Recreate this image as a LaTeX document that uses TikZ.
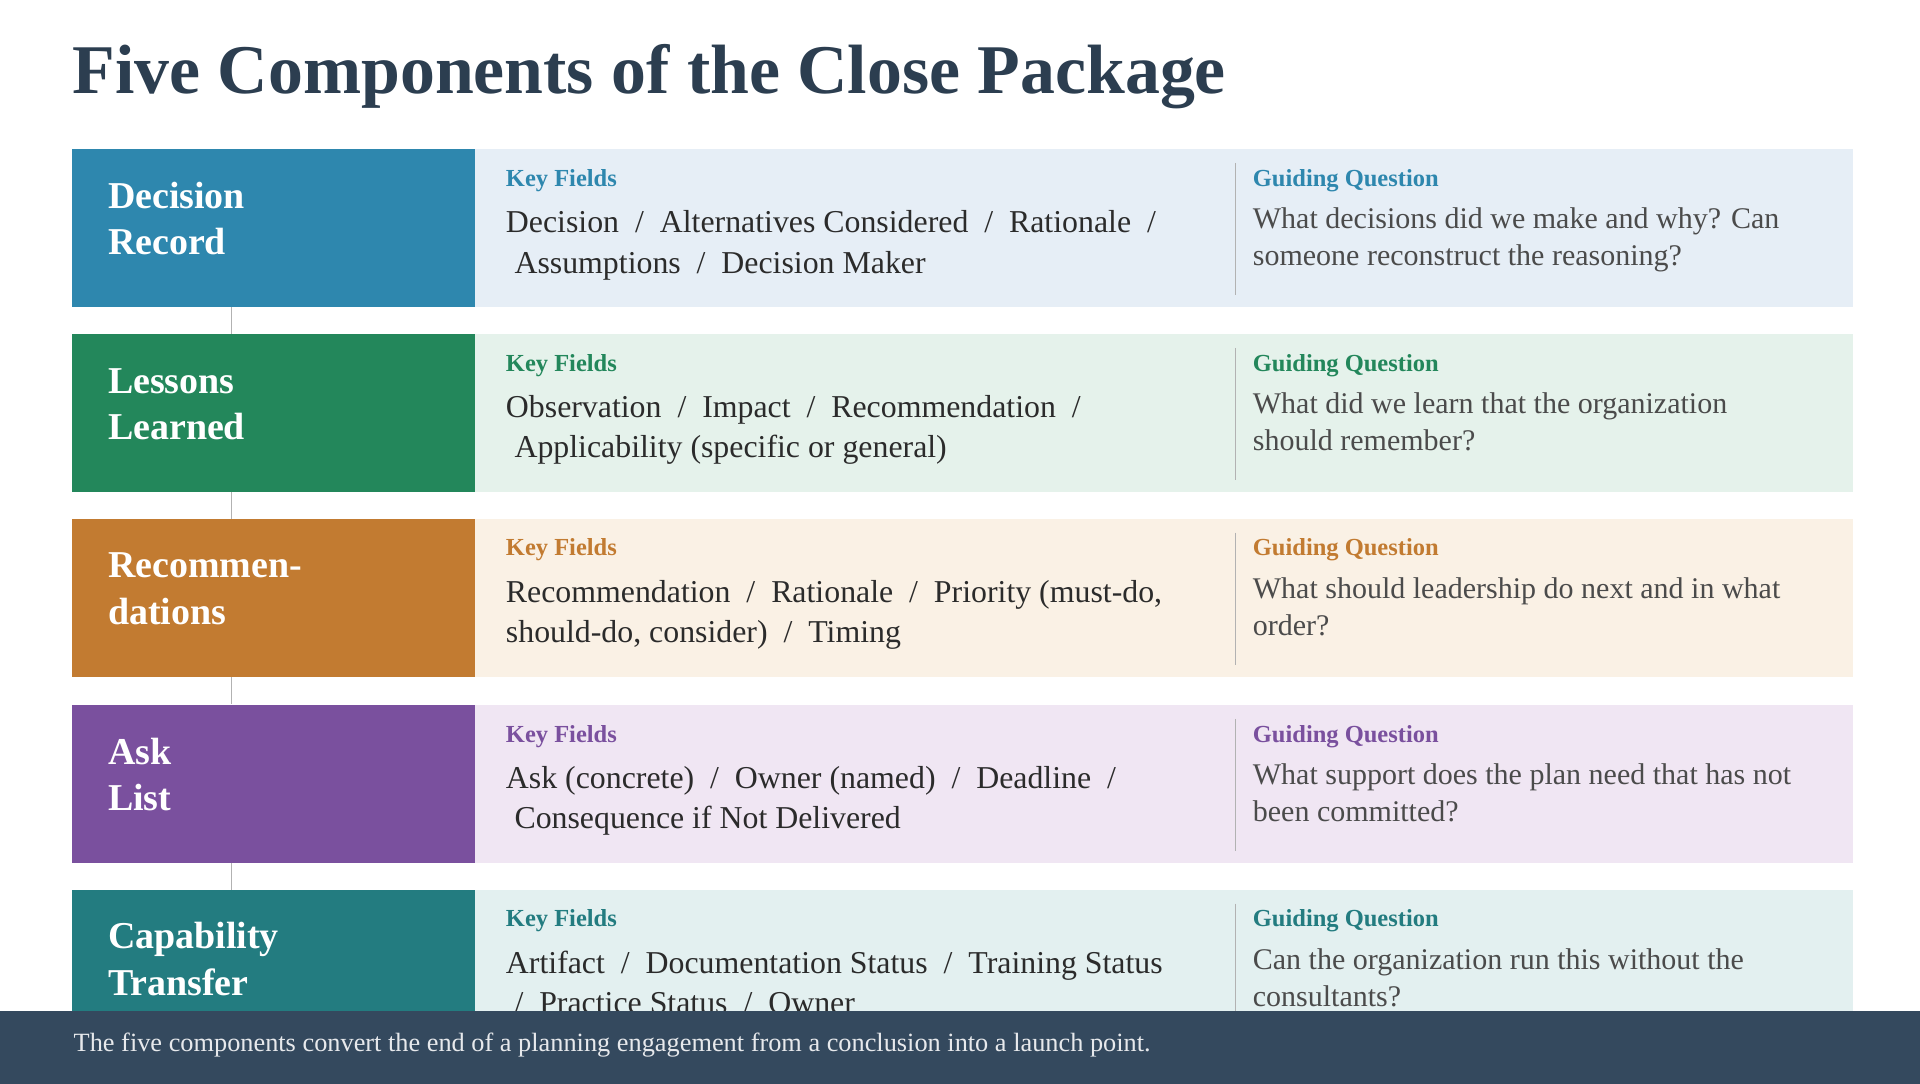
\documentclass[tikz,border=0pt]{standalone}
\usepackage{fontspec}
\setmainfont{Liberation Serif}
\definecolor{titlec}{HTML}{2C3E50}
\definecolor{footc}{HTML}{34495E}
\definecolor{txt}{HTML}{2B2B2B}
\definecolor{dA}{HTML}{2E87AE}\definecolor{lA}{HTML}{E6EEF6}
\definecolor{dB}{HTML}{23875B}\definecolor{lB}{HTML}{E5F2EB}
\definecolor{dC}{HTML}{C27B31}\definecolor{lC}{HTML}{FAF1E5}
\definecolor{dD}{HTML}{7A509E}\definecolor{lD}{HTML}{F0E6F3}
\definecolor{dE}{HTML}{237C80}\definecolor{lE}{HTML}{E3F0F0}
\tikzset{x=1pt,y=-1pt,
 lbl/.style={anchor=base west,inner sep=0,text=white,font=\fontsize{31}{36}\selectfont\bfseries},
 head/.style={anchor=base west,inner sep=0,font=\fontsize{20}{24}\selectfont\bfseries},
 fld/.style={anchor=base west,inner sep=0,text=txt,font=\fontsize{26}{30}\selectfont},
 qst/.style={anchor=base west,inner sep=0,text=txt!85,font=\fontsize{24.5}{28}\selectfont},
 sep/.style={draw=gray!60,line width=1pt}}
\newcommand\crow[9]{%
 \fill[#3] (388,#1) rectangle (1513,#1+129);
 \fill[#2] (59,#1) rectangle (388,#1+129);
 \node[lbl] (#9l1) at (88,#1+48) {#4};
 \node[lbl] (#9l2) at (88,#1+86) {#5};
 \node[head,text=#2] (#9k) at (413,#1+30) {Key Fields};
 \node[fld] (#9f1) at (413,#1+68) {#6};
 \node[fld] (#9f2) at (413,#1+101) {#7};
 \node[head,text=#2] (#9g) at (1023,#1+30) {Guiding Question};
 \node[qst] (#9q) at (1023,#1+65) {#8};
 \coordinate (#9d1) at (1009,#1+11); \coordinate (#9d2) at (1009,#1+119);
 \draw[sep] (#9d1) -- (#9d2);
 \coordinate (#9c1) at (189,#1+129); \coordinate (#9c2) at (189,#1+151);
}
\begin{document}
\begin{tikzpicture}
\useasboundingbox[fill=white] (0,0) rectangle (1568,885);
\node[anchor=base west,inner sep=0,text=titlec,font=\fontsize{57}{64}\selectfont\bfseries] (title) at (59,76) {Five Components of the Close Package};
\crow{122}{dA}{lA}{Decision}{Record}{Decision \ / \ Alternatives Considered \ / \ Rationale \ /}{\hspace{7pt}Assumptions \ / \ Decision Maker}{\parbox[t]{480pt}{\fontsize{24.5}{30}\selectfont What decisions did we make and why? Can\\someone reconstruct the reasoning?}}{a}
\crow{273}{dB}{lB}{Lessons}{Learned}{Observation \ / \ Impact \ / \ Recommendation \ /}{\hspace{7pt}Applicability (specific or general)}{\parbox[t]{480pt}{\fontsize{24.5}{30}\selectfont What did we learn that the organization\\should remember?}}{b}
\crow{424}{dC}{lC}{Recommen-}{dations}{Recommendation \ / \ Rationale \ / \ Priority (must-do,}{should-do, consider) \ / \ Timing}{\parbox[t]{480pt}{\fontsize{24.5}{30}\selectfont What should leadership do next and in what\\order?}}{c}
\crow{576}{dD}{lD}{Ask}{List}{Ask (concrete) \ / \ Owner (named) \ / \ Deadline \ /}{\hspace{7pt}Consequence if Not Delivered}{\parbox[t]{480pt}{\fontsize{24.5}{30}\selectfont What support does the plan need that has not\\been committed?}}{d}
\crow{727}{dE}{lE}{Capability}{Transfer}{Artifact \ / \ Documentation Status \ / \ Training Status}{\hspace{7pt}/ \ Practice Status \ / \ Owner}{\parbox[t]{480pt}{\fontsize{24.5}{30}\selectfont Can the organization run this without the\\consultants?}}{e}
\draw[sep] (ac1) -- (ac2);
\draw[sep] (bc1) -- (bc2);
\draw[sep] (cc1) -- (cc2);
\draw[sep] (dc1) -- (dc2);
\fill[footc] (0,826) rectangle (1568,885);
\node[anchor=base west,inner sep=0,text=white!88!footc,font=\fontsize{21.5}{26}\selectfont] (foot) at (60,859) {The five components convert the end of a planning engagement from a conclusion into a launch point.};
\end{tikzpicture}
\end{document}
